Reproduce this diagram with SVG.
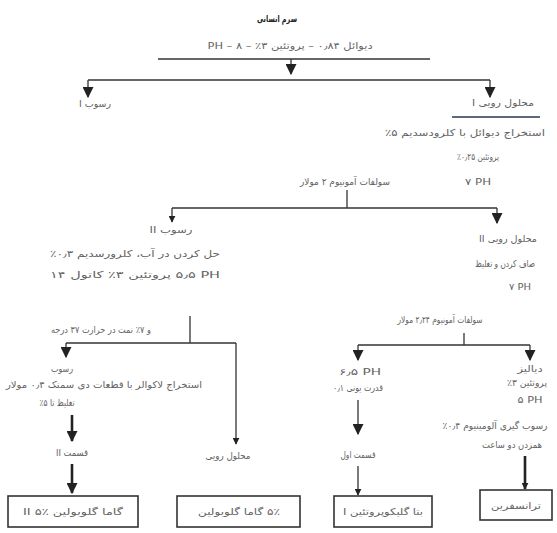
<svg xmlns="http://www.w3.org/2000/svg" width="557" height="533" viewBox="0 0 557 533">
<style>
text{font-family:"DejaVu Sans","Noto Sans",sans-serif;font-size:9.5px;fill:#626262;direction:rtl;unicode-bidi:embed;text-anchor:middle}
.t{font-weight:bold;font-size:9px;fill:#222}
.ln{stroke:#333;stroke-width:1.3;fill:none}
.bx{stroke:#333;stroke-width:1.6;fill:#fff}
.th{stroke:#222;stroke-width:2.6;fill:none}
</style>
<defs>
<marker id="ah" viewBox="0 0 10 10" refX="9" refY="5" markerWidth="7" markerHeight="7" orient="auto" markerUnits="userSpaceOnUse"><path d="M0,0 L10,5 L0,10 z" fill="#222"/></marker>
<marker id="ahb" viewBox="0 0 10 10" refX="9" refY="5" markerWidth="11" markerHeight="11" orient="auto" markerUnits="userSpaceOnUse"><path d="M0,0 L10,5 L0,10 z" fill="#222"/></marker>
</defs>
<g id="connectors">
<line class="ln" x1="158" y1="59" x2="430" y2="59"/>
<line class="ln" x1="291" y1="59" x2="291" y2="74" marker-end="url(#ahb)"/>
<line class="ln" x1="88" y1="80" x2="490" y2="80"/>
<line class="ln" x1="88" y1="80" x2="88" y2="97" marker-end="url(#ahb)"/>
<line class="ln" x1="490" y1="80" x2="490" y2="97" marker-end="url(#ahb)"/>
<line x1="452" y1="117" x2="540" y2="117" stroke="#2a3550" stroke-width="1.6"/>
<line class="ln" x1="347" y1="190" x2="347" y2="208"/>
<line class="ln" x1="172" y1="208" x2="497" y2="208"/>
<line class="ln" x1="172" y1="208" x2="172" y2="222" marker-end="url(#ah)"/>
<line class="ln" x1="497" y1="208" x2="497" y2="223" marker-end="url(#ahb)"/>
<line class="ln" x1="190" y1="316" x2="190" y2="343"/>
<line class="ln" x1="66" y1="343" x2="236" y2="343"/>
<line class="ln" x1="66" y1="343" x2="66" y2="357" marker-end="url(#ahb)"/>
<line class="ln" x1="236" y1="343" x2="236" y2="444" marker-end="url(#ah)"/>
<line class="th" x1="72" y1="415" x2="72" y2="441" marker-end="url(#ahb)"/>
<line class="th" x1="72" y1="464" x2="72" y2="493" marker-end="url(#ahb)"/>
<line class="ln" x1="464" y1="333" x2="464" y2="345"/>
<line class="ln" x1="358" y1="345" x2="530" y2="345"/>
<line class="ln" x1="358" y1="345" x2="358" y2="360" marker-end="url(#ahb)"/>
<line class="ln" x1="530" y1="345" x2="530" y2="360" marker-end="url(#ahb)"/>
<line class="ln" x1="358" y1="400" x2="358" y2="434" marker-end="url(#ahb)"/>
<line class="ln" x1="358" y1="466" x2="358" y2="495" marker-end="url(#ah)"/>
<line class="th" x1="525" y1="456" x2="525" y2="489" marker-end="url(#ah)"/>
</g>
<g id="top">
<text class="t" x="277" y="22" textLength="40" lengthAdjust="spacingAndGlyphs">سرم انسانی</text>
<text x="290" y="49" textLength="165" lengthAdjust="spacingAndGlyphs">دیوائل ۰٫۸۴ – پروتئین ۳٪ – ۸ – PH</text>
</g>
<g id="sediment1"><text x="95" y="107" textLength="32" lengthAdjust="spacingAndGlyphs">رسوب I</text></g>
<g id="supernatant1">
<text x="503" y="106" textLength="62" lengthAdjust="spacingAndGlyphs">محلول رویی I</text>
<text x="465" y="136" textLength="160" lengthAdjust="spacingAndGlyphs">استخراج دیوائل با کلرودسدیم ۵٪</text>
<text x="478" y="160" textLength="42" lengthAdjust="spacingAndGlyphs">پروتئین ۰٫۲۵٪</text>
<text x="478" y="185" textLength="26" lengthAdjust="spacingAndGlyphs">PH&#x200F; ۷</text>
</g>
<g id="step2"><text x="345" y="185" textLength="90" lengthAdjust="spacingAndGlyphs">سولفات آمونیوم ۲ مولار</text></g>
<g id="sediment2">
<text x="171" y="233" textLength="43" lengthAdjust="spacingAndGlyphs">رسوب II</text>
<text x="135" y="257" textLength="170" lengthAdjust="spacingAndGlyphs">حل کردن در آب، کلرورسدیم ۰٫۳٪</text>
<text x="135" y="278" textLength="170" lengthAdjust="spacingAndGlyphs">PH&#x200F; ۵٫۵ پروتئین ۳٪ کاتول ۱۴</text>
</g>
<g id="supernatant2">
<text x="508" y="242" textLength="58" lengthAdjust="spacingAndGlyphs">محلول رویی II</text>
<text x="505" y="267" textLength="60" lengthAdjust="spacingAndGlyphs">صاف کردن و تغلیظ</text>
<text x="520" y="290" textLength="22" lengthAdjust="spacingAndGlyphs">PH&#x200F; ۷</text>
</g>
<g id="step3"><text x="101" y="333" textLength="100" lengthAdjust="spacingAndGlyphs">و ۷٪ نمت در حرارت ۳۷ درجه</text></g>
<g id="sediment3">
<text x="62" y="372" textLength="22" lengthAdjust="spacingAndGlyphs">رسوب</text>
<text x="104" y="388" textLength="196" lengthAdjust="spacingAndGlyphs">استخراج لاکوالر با قطعات دی سمنک ۰٫۴ مولار</text>
<text x="57" y="406" textLength="35" lengthAdjust="spacingAndGlyphs">تغلیظ تا ۵٪</text>
<text x="72" y="456" textLength="32" lengthAdjust="spacingAndGlyphs">قسمت II</text>
</g>
<g id="supernatant3"><text x="228" y="459" textLength="45" lengthAdjust="spacingAndGlyphs">محلول رویی</text></g>
<g id="step4"><text x="440" y="323" textLength="85" lengthAdjust="spacingAndGlyphs">سولفات آمونیوم ۲٫۲۴ مولار</text></g>
<g id="part1">
<text x="360" y="375" textLength="42" lengthAdjust="spacingAndGlyphs">PH&#x200F; ۶٫۵</text>
<text x="358" y="391" textLength="50" lengthAdjust="spacingAndGlyphs">قدرت یونی ۰٫۱</text>
<text x="358" y="458" textLength="35" lengthAdjust="spacingAndGlyphs">قسمت اول</text>
</g>
<g id="dialysis">
<text x="530" y="372" textLength="25" lengthAdjust="spacingAndGlyphs">دیالیز</text>
<text x="527" y="386" textLength="40" lengthAdjust="spacingAndGlyphs">پروتئین ۳٪</text>
<text x="530" y="403" textLength="25" lengthAdjust="spacingAndGlyphs">PH&#x200F; ۵</text>
<text x="495" y="429" textLength="105" lengthAdjust="spacingAndGlyphs">رسوب گیری آلومینیوم ۰٫۴٪</text>
<text x="512" y="448" textLength="60" lengthAdjust="spacingAndGlyphs">همزدن دو ساعت</text>
</g>
<g id="box1"><rect class="bx" x="8" y="496" width="130" height="31"/><text x="73" y="515" textLength="100" lengthAdjust="spacingAndGlyphs">گاما گلوبولین II ۵٪</text></g>
<g id="box2"><rect class="bx" x="177" y="496" width="123" height="31"/><text x="239" y="515" textLength="82" lengthAdjust="spacingAndGlyphs">۵٪ گاما گلوبولین</text></g>
<g id="box3"><rect class="bx" x="334" y="496" width="98" height="31"/><text x="383" y="515" textLength="80" lengthAdjust="spacingAndGlyphs">بتا گلیکوپروتئین I</text></g>
<g id="box4"><rect class="bx" x="480" y="490" width="72" height="30"/><text x="516" y="509" textLength="50" lengthAdjust="spacingAndGlyphs">ترانسفرین</text></g>
</svg>
